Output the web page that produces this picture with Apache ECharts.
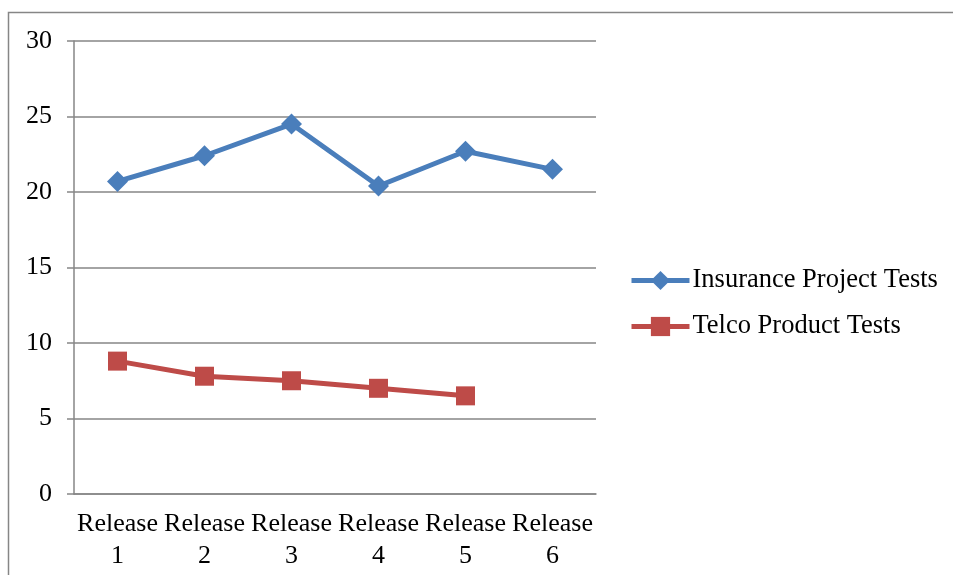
<!DOCTYPE html>
<html>
<head>
<meta charset="utf-8">
<script src="https://cdn.jsdelivr.net/npm/echarts@6/dist/echarts.min.js"></script>
<style>
  html, body { margin: 0; padding: 0; background: #fff; }
  #chart { width: 953px; height: 575px; }
</style>
</head>
<body>
<div id="chart"></div>
<script>
// releases on the x axis
var releases = ['Release\n1', 'Release\n2', 'Release\n3', 'Release\n4', 'Release\n5', 'Release\n6'];
// test counts
var insuranceTests = [20.7, 22.4, 24.5, 20.4, 22.7, 21.5];
var telcoTests = [8.8, 7.8, 7.5, 7.0, 6.5, null];

var gray = '#868686';
var font = 'Liberation Serif, Times New Roman, serif';

var myChart = echarts.init(document.getElementById('chart'));
myChart.setOption({
  animation: false,
  graphic: [{
    type: 'rect',
    shape: { x: 8.5, y: 12.5, width: 960, height: 600 },
    style: { fill: 'none', stroke: gray, lineWidth: 1.5 }
  }],
  grid: { left: 74, right: 357, top: 41, bottom: 81 },
  legend: {
    orient: 'vertical',
    left: 624,
    top: 262,
    itemWidth: 58,
    itemHeight: 24,
    itemGap: 19,
    lineStyle: { width: 5 },
    textStyle: { fontFamily: font, fontSize: 26.5, color: '#000', lineHeight: 26, padding: [0, 0, 0, -2] },
    data: ['Insurance Project Tests', 'Telco Product Tests']
  },
  xAxis: {
    type: 'category',
    data: releases,
    axisLine: { lineStyle: { color: gray, width: 1.5 } },
    axisTick: { alignWithLabel: false, length: 6, lineStyle: { color: gray, width: 1.5 } },
    axisLabel: { fontFamily: font, fontSize: 26, color: '#000', lineHeight: 32, margin: 14, interval: 0 }
  },
  yAxis: {
    type: 'value',
    min: 0,
    max: 30,
    interval: 5,
    axisLine: { show: true, lineStyle: { color: gray, width: 1.5 } },
    axisTick: { show: true, length: 7, lineStyle: { color: gray, width: 1.5 } },
    axisLabel: { fontFamily: font, fontSize: 26, color: '#000', margin: 22 },
    splitLine: { lineStyle: { color: gray, width: 1.5 } }
  },
  series: [
    {
      name: 'Insurance Project Tests',
      type: 'line',
      data: insuranceTests,
      symbol: 'diamond',
      symbolSize: 21,
      color: '#4A7EBB',
      lineStyle: { width: 5, color: '#4A7EBB' },
      itemStyle: { color: '#4A7EBB' }
    },
    {
      name: 'Telco Product Tests',
      type: 'line',
      data: telcoTests,
      symbol: 'rect',
      symbolSize: 19,
      color: '#BE4B48',
      lineStyle: { width: 5, color: '#BE4B48' },
      itemStyle: { color: '#BE4B48' }
    }
  ]
});
</script>
</body>
</html>
